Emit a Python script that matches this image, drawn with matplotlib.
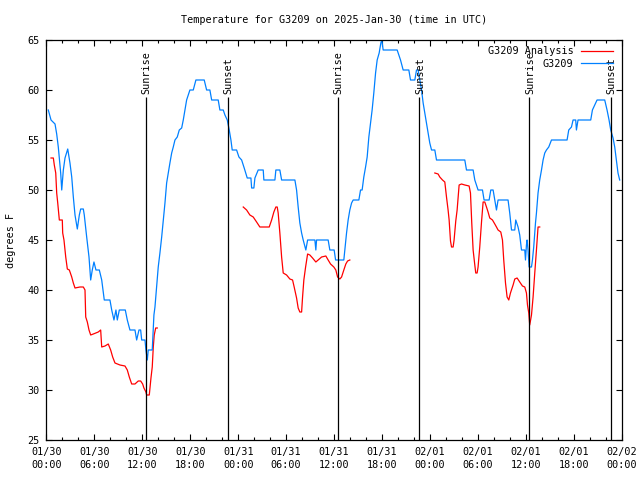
import matplotlib
matplotlib.use("Agg")
import matplotlib.pyplot as plt
import numpy as np

# hours since 2025-01-30 00:00 UTC
obs_hours = [0.25, 0.59, 1.09, 1.3, 1.5, 1.8, 1.93, 2.13, 2.34, 2.68, 2.96, 3.18, 3.38, 3.59, 3.88,
             4.13, 4.3, 4.63, 4.75, 5.05, 5.34, 5.55, 5.75, 5.96, 6.21, 6.63, 6.93, 7.13, 7.25, 7.96,
             8.18, 8.46, 8.71, 8.88, 9.13, 9.88, 10.13, 10.46, 11.09, 11.3, 11.59, 11.8, 11.93, 12.34,
             12.46, 12.63, 12.75, 13.25, 13.46, 13.59, 13.8, 14.0, 14.21, 14.43, 14.63, 14.84, 15.05,
             15.25, 15.46, 15.68, 15.88, 16.09, 16.38, 16.63, 16.93, 17.13, 17.34, 17.55, 17.96, 18.38,
             18.71, 19.75, 20.05, 20.46, 20.68, 21.5, 21.71, 22.13, 22.34, 22.63, 22.88, 23.09, 23.25,
             23.8, 24.09, 24.43, 24.75, 25.13, 25.59, 25.68, 25.96, 26.09, 26.5, 27.13, 27.21, 28.59,
             28.71, 29.21, 29.43, 31.09, 31.3, 31.5, 31.71, 31.93, 32.13, 32.46, 32.68, 33.59, 33.71,
             33.8, 35.25, 35.46, 36.0, 36.18, 37.21, 37.34, 37.55, 37.75, 37.96, 38.18, 38.38, 39.09,
             39.3, 39.5, 39.71, 39.93, 40.13, 40.34, 40.55, 40.75, 40.96, 41.18, 41.38, 41.63, 41.84,
             41.96, 42.13, 43.88, 44.09, 44.3, 44.63, 45.34, 45.55, 46.09, 46.3, 46.5, 46.71, 46.93,
             47.13, 47.34, 47.55, 47.75, 47.96, 48.18, 48.59, 48.8, 52.34, 52.55, 53.38, 53.59, 54.0,
             54.55, 54.75, 55.38, 55.59, 55.88, 56.09, 56.3, 56.5, 57.75, 57.96, 58.18, 58.59, 58.71,
             59.0, 59.21, 59.43, 59.84, 59.93, 60.05, 60.13, 60.25, 60.38, 60.68, 60.8, 60.96, 61.18,
             61.3, 61.5, 61.71, 61.93, 62.13, 62.34, 62.55, 62.84, 63.18, 65.13, 65.34, 65.68, 65.88,
             66.21, 66.3, 66.5, 68.09, 68.3, 68.88, 69.84, 70.13, 70.38, 70.59, 70.88, 71.09, 71.3,
             71.5, 71.71]
obs_temp = [58, 57, 56.6, 55.6, 54.3, 51.7, 50, 52, 53.2, 54.1, 52.7, 51.3, 49.3, 47.5, 46.1,
            47.5, 48.1, 48.1, 47.5, 45.3, 43.3, 41, 42, 42.8, 42, 42, 41, 39.7, 39, 39,
            38, 37, 38, 37, 38, 38, 37, 36, 36, 35, 36, 36, 35, 35,
            34, 33, 34, 34, 37.5, 38.3, 40.3, 42.3, 43.7, 45.3, 47, 48.7, 50.7,
            51.7, 52.7, 53.7, 54.3, 55, 55.3, 56, 56.2, 57, 58, 59, 60, 60,
            61, 61, 60, 60, 59, 59, 58, 58, 57.5, 57, 56, 55, 54,
            54, 53.3, 53, 52.2, 51.2, 51.2, 50.2, 50.2, 51.2, 52, 52, 51, 51,
            52, 52, 51, 51, 50, 48.3, 46.7, 45.7, 45, 44, 45, 45, 44,
            45, 45, 44, 44, 43, 43, 44, 45.7, 47, 48, 48.7, 49, 49,
            50, 50, 51.3, 52.3, 53.3, 55.3, 56.7, 58, 59.7, 61.7, 63, 63.7, 64.7,
            65, 64, 64, 63.5, 63, 62, 62, 61, 61, 62, 62, 61, 60,
            58.7, 57.7, 56.7, 55.7, 54.7, 54, 54, 53, 53, 52, 52, 51, 50,
            50, 49, 49, 50, 50, 49, 48, 49, 49, 47.7, 46, 46, 47,
            46.3, 45.5, 44, 44, 43, 44.5, 45, 44, 42.3, 42.3, 43, 44.3, 46.7,
            47.7, 49.7, 51, 52, 53, 53.7, 54, 54.3, 55, 55, 56, 56.3, 57,
            57, 56, 57, 57, 58, 59, 59, 58, 57, 56, 55.2, 54.3, 53,
            51.7, 51]

ana1_hours = [0.59, 0.88, 1.0, 1.18, 1.3, 1.43, 1.63, 2.0, 2.05, 2.21, 2.43, 2.63, 2.88, 3.18, 3.38,
              3.59, 4.21, 4.63, 4.84, 4.93, 5.13, 5.34, 5.55, 5.88, 6.5, 6.8, 6.93, 7.34, 7.75, 8.05,
              8.3, 8.59, 9.21, 9.84, 10.13, 10.38, 10.68, 11.09, 11.5, 11.8, 12.05, 12.21, 12.46,
              12.55, 12.88, 13.09, 13.25, 13.38, 13.5, 13.68, 13.88]
ana1_temp = [53.2, 53.2, 52.5, 51.7, 49.7, 48.7, 47, 47, 45.7, 45, 43.3, 42.1, 42, 41.3, 40.7,
             40.2, 40.3, 40.3, 40, 37.3, 36.8, 36, 35.5, 35.6, 35.8, 36, 34.3, 34.4, 34.6, 34,
             33.3, 32.7, 32.5, 32.4, 32, 31.3, 30.6, 30.6, 30.9, 30.9, 30.6, 30.2, 29.8,
             29.5, 29.5, 31.2, 32.3, 34.3, 35.5, 36.2, 36.2]

ana2_hours = [24.63, 25.05, 25.46, 25.88, 26.3, 26.71, 27.88, 28.18, 28.46, 28.71, 28.88, 29.0, 29.21,
              29.43, 29.63, 30.05, 30.46, 30.8, 31.0, 31.3, 31.5, 31.71, 31.93, 32.05, 32.21, 32.43,
              32.68, 32.96, 33.3, 33.71, 34.0, 34.43, 34.96, 35.25, 35.55, 35.96, 36.21, 36.43, 36.71,
              36.93, 37.21, 37.46, 37.68, 37.96]
ana2_temp = [48.3, 48, 47.5, 47.3, 46.8, 46.3, 46.3, 47, 47.8, 48.3, 48.3, 47.7, 45.7,
             43.3, 41.7, 41.5, 41.1, 41, 40.3, 39.2, 38.2, 37.8, 37.8, 39.3, 41, 42.3,
             43.6, 43.5, 43.2, 42.8, 43, 43.3, 43.4, 43, 42.6, 42.3, 42, 41.3, 41.1,
             41.3, 42, 42.6, 42.9, 43]

ana3_hours = [48.59, 49.0, 49.21, 49.55, 49.84, 50.05, 50.25, 50.38, 50.55, 50.68, 50.88, 51.0, 51.21,
              51.38, 51.63, 51.93, 52.34, 52.88, 53.05, 53.21, 53.38, 53.59, 53.71, 53.88, 54.0, 54.21,
              54.43, 54.63, 54.84, 55.05, 55.25, 55.46, 55.8, 56.09, 56.3, 56.5, 56.84, 57.05, 57.21,
              57.43, 57.63, 57.84, 58.05, 58.38, 58.59, 58.88, 59.21, 59.55, 59.84, 60.05, 60.18,
              60.34, 60.46, 60.68, 60.88, 61.09, 61.3, 61.5, 61.71]
ana3_temp = [51.7, 51.6, 51.3, 51, 50.8, 49.3, 48, 47, 44.9, 44.3, 44.3, 45, 46.9,
             48, 50.5, 50.6, 50.5, 50.4, 49.7, 46.7, 44, 42.5, 41.7, 41.7, 42.3, 44.3,
             46.8, 48.8, 48.8, 48.3, 47.8, 47.2, 47, 46.6, 46.3, 46, 45.8, 45, 43,
             40.7, 39.3, 39, 39.7, 40.5, 41.1, 41.2, 40.8, 40.4, 40.3, 39.7, 38.5,
             37.7, 36.5, 37.5, 39.3, 41.7, 44, 46.3, 46.3]

sunrise_hours = [12.45, 36.43, 60.40]
sunset_hours = [22.67, 46.65, 70.63]

tick_hours = list(range(0, 73, 6))
tick_labels = ["01/30\n00:00", "01/30\n06:00", "01/30\n12:00", "01/30\n18:00",
               "01/31\n00:00", "01/31\n06:00", "01/31\n12:00", "01/31\n18:00",
               "02/01\n00:00", "02/01\n06:00", "02/01\n12:00", "02/01\n18:00",
               "02/02\n00:00"]
y_ticks = [25, 30, 35, 40, 45, 50, 55, 60, 65]

FONT = "DejaVu Sans Mono"
FS = 7.3
plt.rcParams['font.family'] = FONT

fig = plt.figure(figsize=(6.4, 4.8), dpi=100)
ax = fig.add_axes([46.3 / 640, 1 - 440 / 480, (622 - 46.3) / 640, 400 / 480])

red = "#ff0000"
blue = "#0080ff"
lw = 0.9

ax.plot(ana1_hours, ana1_temp, color=red, lw=lw, label="G3209 Analysis")
ax.plot(ana2_hours, ana2_temp, color=red, lw=lw)
ax.plot(ana3_hours, ana3_temp, color=red, lw=lw)
ax.plot(obs_hours, obs_temp, color=blue, lw=lw, label="G3209")

for h in sunrise_hours:
    ax.vlines(h, 25, 59.3, color="black", lw=0.9)
    ax.text(h + 0.1, 59.6, "Sunrise", rotation=90, ha="center", va="bottom", fontsize=FS)
for h in sunset_hours:
    ax.vlines(h, 25, 59.3, color="black", lw=0.9)
    ax.text(h + 0.1, 59.6, "Sunset", rotation=90, ha="center", va="bottom", fontsize=FS)

ax.set_xlim(0, 72)
ax.set_ylim(25, 65)
ax.set_xticks(tick_hours)
ax.set_xticklabels(tick_labels, fontsize=FS, linespacing=1.35)
ax.set_xticks(list(range(0, 73, 2)), minor=True)
ax.set_yticks(y_ticks)
ax.set_yticklabels([str(v) for v in y_ticks], fontsize=FS)
ax.tick_params(which="both", direction="in", top=True, right=True, width=0.8)
ax.tick_params(which="major", length=4.5, pad=5)
ax.tick_params(which="minor", length=2.5)
for s in ax.spines.values():
    s.set_linewidth(0.9)

fig.text(11 / 640, 1 - 240 / 480, "degrees F", rotation=90, ha="center", va="center", fontsize=FS)

leg = ax.legend(loc="upper right", frameon=False, fontsize=FS, markerfirst=False,
                handlelength=3.2, handletextpad=0.7, labelspacing=0.25,
                borderaxespad=0.2, bbox_to_anchor=(0.995, 1.0))

fig.text(334 / 640, 1 - 20 / 480, "Temperature for G3209 on 2025-Jan-30 (time in UTC)",
         ha="center", va="center", fontsize=FS)

fig.savefig("out.png", dpi=100)
